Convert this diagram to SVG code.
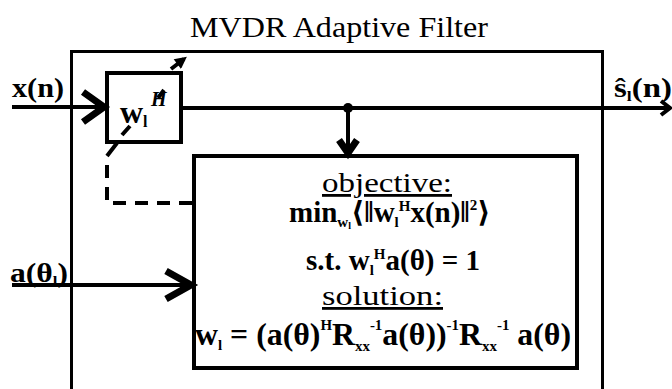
<svg xmlns="http://www.w3.org/2000/svg" width="672" height="389" viewBox="0 0 672 389">
<style>
.t{font-family:"Liberation Serif","Times New Roman","DejaVu Serif",serif;fill:#000}
.b{font-weight:bold}
.s{font-size:15px}
.ln{fill:none;stroke:#000;stroke-width:4}
.chev{fill:none;stroke:#000;stroke-width:7;stroke-linejoin:miter;stroke-linecap:butt}
.box{fill:#fff;stroke:#000;stroke-width:4}
.dash{fill:none;stroke:#000;stroke-width:4;stroke-dasharray:13 9}
</style>
<defs>
<marker id="tri" viewBox="0 0 10 10" refX="7" refY="5" markerUnits="userSpaceOnUse" markerWidth="14" markerHeight="12" orient="auto">
<path d="M0,0 L10,5 L0,10 z" fill="#000"/>
</marker>
</defs>
<rect width="672" height="389" fill="#fff"/>
<g id="title"><text class="t" x="190" y="37" font-size="29" textLength="298" lengthAdjust="spacingAndGlyphs">MVDR Adaptive Filter</text></g>
<g id="mvdr-filter"><rect x="71.5" y="51.5" width="531" height="345" fill="#fff" stroke="#000" stroke-width="3"/></g>
<g id="weights">
<rect class="box" x="107" y="73" width="74" height="69"/>
<text class="t b" x="120" y="123" font-size="32">w<tspan font-size="16" dy="4">l</tspan></text>
<text class="t b" x="151" y="106" font-size="20" font-style="italic">H</text>
</g>
<g id="optimizer">
<rect class="box" x="194" y="156" width="383" height="212"/>
<text class="t" x="322" y="192" font-size="28" text-decoration="underline" textLength="130" lengthAdjust="spacingAndGlyphs">objective:</text>
<text class="t b" x="289" y="222" font-size="29">min<tspan class="s" dy="5">w</tspan><tspan font-size="10" dy="2">l</tspan><tspan dy="-7">⟨‖w</tspan><tspan class="s" dy="5">l</tspan><tspan class="s" dy="-16">H</tspan><tspan dy="11">x(n)‖</tspan><tspan class="s" dy="-12">2</tspan><tspan dy="12">⟩</tspan></text>
<text class="t b" x="306" y="270" font-size="29">s.t. w<tspan class="s" dy="5">l</tspan><tspan class="s" dy="-16">H</tspan><tspan dy="11">a(θ) = 1</tspan></text>
<text class="t" x="322" y="305" font-size="28" text-decoration="underline" textLength="121" lengthAdjust="spacingAndGlyphs">solution:</text>
<text class="t b" x="195" y="345" font-size="32" textLength="376" lengthAdjust="spacingAndGlyphs">w<tspan class="s" dy="5">l</tspan><tspan dy="-5"> = (a(θ)</tspan><tspan class="s" dy="-15">H</tspan><tspan dy="15">R</tspan><tspan class="s" dy="6">xx</tspan><tspan class="s" dy="-21">-1</tspan><tspan dy="15">a(θ))</tspan><tspan class="s" dy="-15">-1</tspan><tspan dy="15">R</tspan><tspan class="s" dy="6">xx</tspan><tspan class="s" dy="-21">-1</tspan><tspan dy="15"> a(θ)</tspan></text>
</g>
<g id="input-x"><text class="t b" x="12" y="97" font-size="27" textLength="52" lengthAdjust="spacingAndGlyphs">x(n)</text></g>
<g id="input-a"><text class="t b" x="10" y="282" font-size="28" textLength="58" lengthAdjust="spacingAndGlyphs">a(θ<tspan class="s" dy="4">l</tspan><tspan dy="-4">)</tspan></text></g>
<g id="output-s"><text class="t b" x="614" y="97" font-size="28" textLength="58" lengthAdjust="spacingAndGlyphs">ŝ<tspan class="s" dy="4">l</tspan><tspan dy="-4">(n)</tspan></text></g>
<g id="connectors">
<line class="ln" x1="12" y1="107" x2="103" y2="107" stroke-width="5"/>
<polyline class="chev" points="83,92 104,107 83,122"/>
<line class="ln" x1="183" y1="108" x2="670" y2="108"/>
<polyline class="ln" points="661,101 670,108 661,115" stroke-width="3"/>
<circle cx="348" cy="108" r="5" fill="#000"/>
<line class="ln" x1="348" y1="108" x2="348" y2="152"/>
<polyline class="chev" points="339,140 348,153 357,140" stroke-width="5"/>
<line class="ln" x1="12" y1="285" x2="190" y2="285" stroke-width="5"/>
<polyline class="chev" points="166,271 191,285 166,299"/>
<path class="dash" d="M192,203 L107,203 L107,162"/>
<path class="ln" d="M107,156 L117,143 M122,135 L130,126 M158,98 L164,90 M171,69 L184,59" marker-end="url(#tri)"/>
</g>
</svg>
